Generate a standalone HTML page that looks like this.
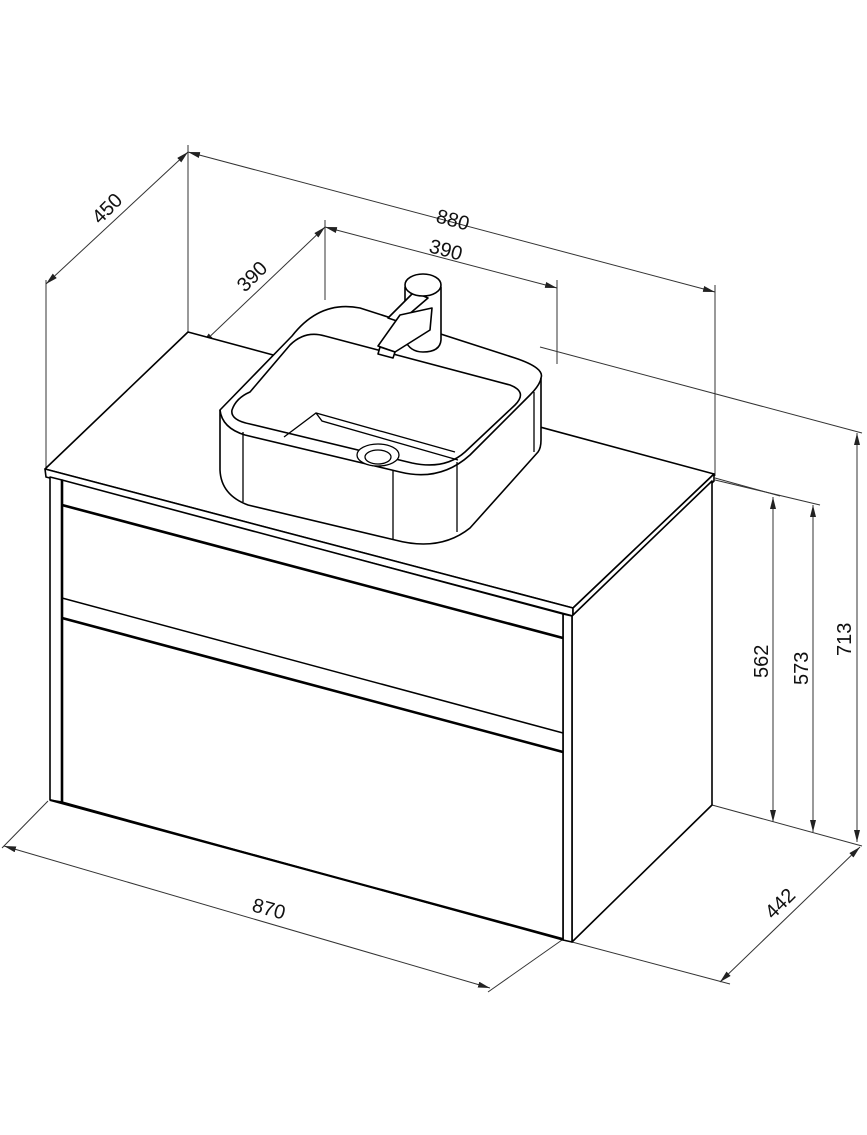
<!DOCTYPE html>
<html><head><meta charset="utf-8"><style>
html,body{margin:0;padding:0;background:#fff}
svg{display:block}
text{font-family:"Liberation Sans",sans-serif;font-size:20px;fill:#111}
</style></head><body>
<svg width="867" height="1135" viewBox="0 0 867 1135" xmlns="http://www.w3.org/2000/svg">
<defs>
<marker id="a" viewBox="0 0 12 6" refX="12" refY="3" markerWidth="12" markerHeight="6" orient="auto-start-reverse" markerUnits="userSpaceOnUse">
<path d="M0,0 L12,3 L0,6 Z" fill="#222"/></marker>
</defs>
<g stroke="#333" stroke-width="1" fill="none">
<line x1="188" y1="145" x2="188" y2="332"/>
<line x1="715" y1="285" x2="715" y2="476"/>
<line x1="46" y1="280" x2="46" y2="468"/>
<line x1="325" y1="220" x2="325" y2="300"/>
<line x1="557" y1="280" x2="557" y2="364"/>
<line x1="202" y1="338" x2="202" y2="420"/>
<line x1="540" y1="347" x2="862" y2="433"/>
<line x1="715" y1="478" x2="780" y2="496"/>
<line x1="715" y1="480" x2="820" y2="505"/>
<line x1="712" y1="805" x2="862" y2="846"/>
<line x1="572" y1="942" x2="730" y2="984"/>
<line x1="48" y1="801" x2="2" y2="848"/>
<line x1="562" y1="940" x2="488" y2="992"/>
<line x1="188" y1="152" x2="715" y2="292" marker-start="url(#a)" marker-end="url(#a)"/>
<line x1="46" y1="284" x2="188" y2="152" marker-start="url(#a)" marker-end="url(#a)"/>
<line x1="325" y1="227" x2="557" y2="288" marker-start="url(#a)" marker-end="url(#a)"/>
<line x1="202" y1="344" x2="325" y2="227" marker-start="url(#a)" marker-end="url(#a)"/>
<line x1="773" y1="497" x2="773" y2="822" marker-start="url(#a)" marker-end="url(#a)"/>
<line x1="813" y1="505" x2="813" y2="832" marker-start="url(#a)" marker-end="url(#a)"/>
<line x1="857" y1="433" x2="857" y2="842" marker-start="url(#a)" marker-end="url(#a)"/>
<line x1="720" y1="982" x2="860" y2="847" marker-start="url(#a)" marker-end="url(#a)"/>
<line x1="4" y1="846" x2="490" y2="988" marker-start="url(#a)" marker-end="url(#a)"/>
</g>
<g stroke="#000" fill="#fff" stroke-width="1.6" stroke-linejoin="round">
<path d="M45,469 L188,332 L714,474 L573,608 Z"/>
<path d="M45,469 L573,608 L573,616 L46,477 Z"/>
<path d="M573,608 L714,474 L714,481 L573,616 Z"/>
<path d="M572,616 L712,481 L712,805 L572,942 Z"/>
<path d="M50,477 L62,480 L62,802 L50,800 Z"/>
<path d="M563,614 L572,616 L572,942 L563,940 Z"/>
<path d="M62,480 L563,614 L563,940 L62,802 Z"/>
</g>
<g stroke="#000" fill="none">
<line x1="50" y1="800" x2="563" y2="939" stroke-width="2.2"/>
<line x1="62" y1="505" x2="563" y2="638" stroke-width="2.6"/>
<line x1="62" y1="598" x2="563" y2="733" stroke-width="1.5"/>
<line x1="62" y1="618" x2="563" y2="752" stroke-width="2.6"/>
<line x1="62" y1="480" x2="62" y2="802" stroke-width="2.6"/>
</g>
<!-- sink -->
<g stroke="#000" stroke-width="1.6" fill="#fff" stroke-linejoin="round">
<!-- body silhouette -->
<path d="M220,410 L220,470 Q221,495 248,505 L395,540 Q440,552 470,528 L538,452 Q541,448 541,440 L541,378 Q545,368 515,358 L360,308 Q320,300 292,336 Z"/>
<!-- rim top front edge -->
<path d="M220,410 Q222,428 245,435 L400,472 Q440,482 470,455 L530,395 Q540,385 541,378" fill="none"/>
<!-- inner opening -->
<path d="M232,410 Q236,398 250,392 L290,345 Q305,330 325,336 L510,385 Q528,392 515,405 L465,452 Q445,470 412,463 L250,424 Q230,420 232,410 Z" fill="#fff"/>
</g>
<g stroke="#000" stroke-width="1.3" fill="none">
<path d="M284,437 L316,413 L455,452"/>
<path d="M316,413 L322,421 L458,460"/>
<line x1="243" y1="432" x2="243" y2="502"/>
<line x1="393" y1="470" x2="393" y2="540"/>
<line x1="457" y1="462" x2="457" y2="532"/>
<line x1="534" y1="392" x2="534" y2="452"/>
<ellipse cx="378" cy="455" rx="21" ry="11" fill="#fff"/>
<ellipse cx="378" cy="457" rx="13" ry="7"/>
</g>
<g stroke="#000" stroke-width="1.6" fill="#fff" stroke-linejoin="round">
<path d="M405,287 L405,340 Q410,352 423,352 Q440,352 441,340 L441,287 Z"/>
<path d="M388,318 L414,292 L428,298 L400,322 Z"/>
<path d="M378,346 L400,315 L432,308 L430,330 L395,352 Z"/>
<path d="M380,347 L395,352 L393,358 L378,354 Z"/>
<ellipse cx="423" cy="285" rx="18" ry="11"/>
</g>
<text x="0" y="0" transform="translate(435,222) rotate(15)">880</text>
<text x="0" y="0" transform="translate(100,225) rotate(-45)">450</text>
<text x="0" y="0" transform="translate(428,252) rotate(15)">390</text>
<text x="0" y="0" transform="translate(245,293) rotate(-45)">390</text>
<text x="0" y="0" transform="translate(251,911) rotate(15)">870</text>
<text x="0" y="0" transform="translate(773,920) rotate(-45)">442</text>
<text x="0" y="0" transform="translate(768,678) rotate(-90)">562</text>
<text x="0" y="0" transform="translate(808,685) rotate(-90)">573</text>
<text x="0" y="0" transform="translate(851,656) rotate(-90)">713</text>
</svg>
</body></html>
